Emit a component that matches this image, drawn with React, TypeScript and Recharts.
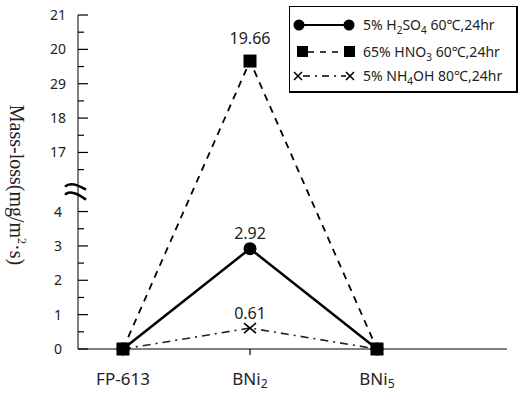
import React from 'react';
import { LineChart, Line, XAxis, YAxis, ReferenceLine, LabelList } from 'recharts';

// ---------- data ----------
const categories = ['FP-613', 'BNi2', 'BNi5'];
const h2so4Values = [0, 2.92, 0];
const hno3Values = [0, 19.66, 0];
const nh4ohValues = [0, 0.61, 0];

const seriesNames = ['5% H2SO4 60℃,24hr', '65% HNO3 60℃,24hr', '5% NH4OH 80℃,24hr'];

const yTickValues = [0, 1, 2, 3, 4, 17, 18, 19, 20, 21];
const yTickLabels = ['0', '1', '2', '3', '4', '17', '18', '29', '20', '21'];
const yMinorTickValues = [0.5, 1.5, 2.5, 3.5, 16.5, 17.5, 18.5, 19.5, 20.5];

// broken axis: values above the break are shifted down
const BREAK_SHIFT = 11.28;
const BREAK_AT = 4.58;
const toAxis = (v: number) => (v > 10 ? v - BREAK_SHIFT : v);
const Y_MAX = toAxis(21);

const chartData = categories.map((c, i) => ({
  cat: c,
  h2so4: toAxis(h2so4Values[i]),
  hno3: toAxis(hno3Values[i]),
  nh4oh: toAxis(nh4ohValues[i]),
  h2so4Raw: h2so4Values[i],
  hno3Raw: hno3Values[i],
  nh4ohRaw: nh4ohValues[i],
}));

const allYTicks = [...yTickValues, ...yMinorTickValues].map(toAxis).sort((a, b) => a - b);

const SANS = '"Noto Sans", "Open Sans", sans-serif';

// subscript digits that follow a letter (chemical formulas, BNi2)
function formula(text: string, fontSize: number, shiftRatio = 0.28) {
  const segs: { t: string; sub: boolean }[] = [];
  for (let i = 0; i < text.length; i++) {
    const ch = text[i];
    const prev = i > 0 ? text[i - 1] : '';
    const isDigit = /[0-9]/.test(ch);
    const prevSeg = segs[segs.length - 1];
    const sub = isDigit && (/[A-Za-z]/.test(prev) || (prevSeg && prevSeg.sub && /[0-9]/.test(prev)));
    if (prevSeg && prevSeg.sub === sub) prevSeg.t += ch;
    else segs.push({ t: ch, sub });
  }
  const shift = Math.round(fontSize * shiftRatio);
  let cur = 0;
  return segs.map((s, k) => {
    const target = s.sub ? shift : 0;
    const dy = target - cur;
    cur = target;
    return (
      <tspan key={k} dy={dy === 0 ? undefined : dy} fontSize={s.sub ? fontSize * 0.72 : fontSize}>
        {s.t}
      </tspan>
    );
  });
}

const YTick = (props: any) => {
  const { x, y, payload } = props;
  const v = payload.value;
  const idx = yTickValues.findIndex((t) => Math.abs(toAxis(t) - v) < 1e-6);
  if (idx >= 0) {
    return (
      <g>
        <line x1={x} x2={x + 10} y1={y} y2={y} stroke="#000" strokeWidth={1.2} />
        <text x={x - 20} y={y + 5} textAnchor="middle" fontSize={14} fontFamily={SANS} fill="#222">
          {yTickLabels[idx]}
        </text>
      </g>
    );
  }
  return (
    <g>
      <line x1={x} x2={x + 6} y1={y} y2={y} stroke="#000" strokeWidth={1.2} />
    </g>
  );
};

const XTick = (props: any) => {
  const { x, y, payload } = props;
  return (
    <text x={x} y={y + 28} textAnchor="middle" fontSize={17} fontFamily={SANS} fill="#222">
      {formula(String(payload.value), 17, 0.18)}
    </text>
  );
};

const YLabel = (props: any) => {
  const vb = props.viewBox || { x: 0, y: 15, width: 78, height: 334 };
  const cx = vb.x + 10;
  const cy = vb.y + 170;
  return (
    <text
      transform={`rotate(90 ${cx} ${cy})`}
      x={cx}
      y={cy}
      textAnchor="middle"
      fontFamily='"Liberation Serif", "DejaVu Serif", serif'
      fontSize={20}
      fill="#222"
    >
      Mass-loss(mg/m
      <tspan dy={-8} fontSize={12}>2</tspan>
      <tspan dy={8}>·s)</tspan>
    </text>
  );
};

const BreakMark = (props: any) => {
  const vb = props.viewBox || { x: 78, y: 192 };
  const x = vb.x;
  const y = vb.y;
  return (
    <g transform={`translate(${x} ${y})`}>
      <path d="M -13 -5 Q -7 -11 8 -2 L 8 9 Q -7 0 -13 3 Z" fill="#fff" stroke="none" />
      <path d="M -13 -5 Q -7 -11 8 -2" fill="none" stroke="#000" strokeWidth={2.6} />
      <path d="M -13 3 Q -7 -3 8 8" fill="none" stroke="#000" strokeWidth={2.6} />
    </g>
  );
};

const CircleDot = (props: any) => {
  const { cx, cy, index } = props;
  return <circle key={`c-${index}`} cx={cx} cy={cy} r={6.5} fill="#000" />;
};
const SquareDot = (props: any) => {
  const { cx, cy, index } = props;
  return <rect key={`s-${index}`} x={cx - 6.5} y={cy - 6.5} width={13} height={13} fill="#000" />;
};
const CrossDot = (props: any) => {
  const { cx, cy, index } = props;
  return (
    <g key={`x-${index}`}>
      <line x1={cx - 6} y1={cy - 5} x2={cx + 6} y2={cy + 5} stroke="#000" strokeWidth={1.6} />
      <line x1={cx - 6} y1={cy + 5} x2={cx + 6} y2={cy - 5} stroke="#000" strokeWidth={1.6} />
    </g>
  );
};

const makeLabel = (offset: number) => (props: any) => {
  const { x, y, value, index } = props;
  if (index !== 1) return null;
  return (
    <text x={x} y={y - offset} textAnchor="middle" fontSize={16} fontFamily={SANS} fill="#222">
      {Number(value).toFixed(2)}
    </text>
  );
};

const LegendBox = () => (
  <div
    style={{
      position: 'absolute',
      left: 289,
      top: 6,
      width: 229,
      height: 87,
      boxSizing: 'border-box',
      borderTop: '1px solid #000',
      borderLeft: '1px solid #000',
      borderRight: '2px solid #000',
      borderBottom: '2px solid #000',
      background: '#fff',
    }}
  >
    <svg width={226} height={84} style={{ position: 'absolute', left: 0, top: 0 }}>
      <g>
        <line x1={9} x2={59} y1={18} y2={18} stroke="#000" strokeWidth={2.2} />
        <circle cx={9} cy={18} r={5.5} fill="#000" />
        <circle cx={59} cy={18} r={5.5} fill="#000" />
        <text x={73} y={23} fontSize={14} fontFamily={SANS} fill="#222">
          {formula(seriesNames[0], 14)}
        </text>
      </g>
      <g>
        <line x1={18} x2={55} y1={45} y2={45} stroke="#000" strokeWidth={1.6} strokeDasharray="6 6" />
        <rect x={7} y={39} width={11} height={11} fill="#000" />
        <rect x={54} y={39} width={11} height={11} fill="#000" />
        <text x={73} y={50} fontSize={14} fontFamily={SANS} fill="#222">
          {formula(seriesNames[1], 14)}
        </text>
      </g>
      <g>
        <line x1={13} x2={56} y1={69} y2={69} stroke="#000" strokeWidth={1.6} strokeDasharray="7 5 2 5" />
        <line x1={4} y1={65} x2={12} y2={73} stroke="#000" strokeWidth={1.6} />
        <line x1={4} y1={73} x2={12} y2={65} stroke="#000" strokeWidth={1.6} />
        <line x1={56} y1={65} x2={64} y2={73} stroke="#000" strokeWidth={1.6} />
        <line x1={56} y1={73} x2={64} y2={65} stroke="#000" strokeWidth={1.6} />
        <text x={73} y={74} fontSize={14} fontFamily={SANS} fill="#222">
          {formula(seriesNames[2], 14)}
        </text>
      </g>
    </svg>
  </div>
);

export default function App() {
  return (
    <div style={{ position: 'absolute', left: 0, top: 0, width: 520, height: 393, background: '#fff' }}>
      <LineChart width={520} height={393} data={chartData} margin={{ top: 15, right: 13, bottom: 0, left: 0 }}>
        <XAxis
          dataKey="cat"
          height={44}
          padding={{ left: 45, right: 130 }}
          axisLine={{ stroke: '#000', strokeWidth: 1 }}
          tickLine={{ stroke: '#000', strokeWidth: 1.2 }}
          tickSize={6}
          tickMargin={2}
          tick={<XTick />}
          interval={0}
        />
        <YAxis
          type="number"
          width={78}
          domain={[0, Y_MAX]}
          ticks={allYTicks}
          interval={0}
          tickSize={0}
          tickMargin={0}
          tickLine={false}
          axisLine={{ stroke: '#000', strokeWidth: 1 }}
          tick={<YTick />}
          label={<YLabel />}
        />
        <Line
          dataKey="nh4oh"
          name={seriesNames[2]}
          stroke="#222"
          strokeWidth={1.6}
          strokeDasharray="8 5 2 5"
          dot={<CrossDot />}
          activeDot={false}
          isAnimationActive={false}
        >
          <LabelList dataKey="nh4ohRaw" content={makeLabel(9)} />
        </Line>
        <Line
          dataKey="h2so4"
          name={seriesNames[0]}
          stroke="#000"
          strokeWidth={2.5}
          dot={<CircleDot />}
          activeDot={false}
          isAnimationActive={false}
        >
          <LabelList dataKey="h2so4Raw" content={makeLabel(10)} />
        </Line>
        <Line
          dataKey="hno3"
          name={seriesNames[1]}
          stroke="#000"
          strokeWidth={1.8}
          strokeDasharray="7 6"
          dot={<SquareDot />}
          activeDot={false}
          isAnimationActive={false}
        >
          <LabelList dataKey="hno3Raw" content={makeLabel(17)} />
        </Line>
        <ReferenceLine y={BREAK_AT} stroke="none" label={<BreakMark />} />
      </LineChart>
      <LegendBox />
    </div>
  );
}
